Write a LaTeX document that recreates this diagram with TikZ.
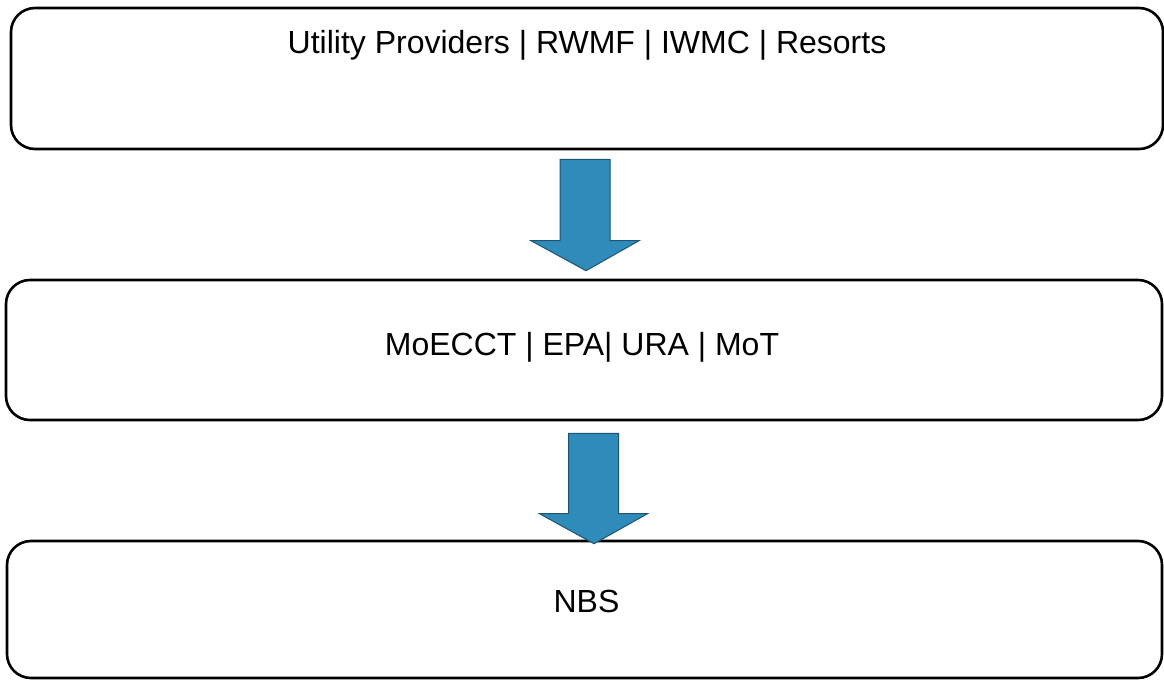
\documentclass[tikz,border=0pt]{standalone}
\usepackage{fontspec}
\setmainfont{Liberation Sans}
\usepackage{tikz}
\usetikzlibrary{calc}

\definecolor{arrowblue}{RGB}{47,140,186}
\definecolor{arrowedge}{RGB}{30,84,112}

\tikzset{
  stage/.style={draw=black, line width=2.6pt, rounded corners=24pt, fill=white},
  stagetext/.style={anchor=base, inner sep=0pt, font=\fontsize{32}{38}\selectfont},
  blockarr/.style={fill=arrowblue, draw=arrowedge, line width=1pt, line join=miter}
}

% block arrow from the top centre #1 down to the tip #2
\newcommand{\flowarrow}[2]{%
  \draw[blockarr] let \p1=(#1), \p2=(#2) in
    (\x1-25pt,\y1) -- (\x1+25pt,\y1) -- (\x1+25pt,\y2+30pt)
    -- (\x1+54pt,\y2+30pt) -- (\x2,\y2) -- (\x1-54pt,\y2+30pt)
    -- (\x1-25pt,\y2+30pt) -- cycle;}

\begin{document}
\begin{tikzpicture}[x=1pt, y=-1pt]
      \useasboundingbox (0,0) rectangle (1164,681);
      % boxes
      \node[stage, minimum width=1152pt, minimum height=141pt] (providers) at (587,78.5) {};
      \node[stage, minimum width=1156pt, minimum height=140pt] (agencies) at (584,350) {};
      \node[stage, minimum width=1155pt, minimum height=137pt] (nbs) at (584.5,609.5) {};
      % labels
      \node[stagetext] (providerstext) at ($(providers.north)+(0,47)$) {Utility Providers | RWMF | IWMC | Resorts};
      \node[stagetext] (agenciestext) at ($(agencies.center)+(-2,5)$) {MoECCT | EPA| URA | MoT};
      \node[stagetext] (nbstext) at ($(nbs.center)+(2,2.5)$) {NBS};
      % arrows
      \coordinate (arrowtopA) at ($(providers.south)+(-2,9)$);
      \coordinate (arrowtipA) at ($(agencies.north)+(2,-8)$);
      \coordinate (arrowtopB) at ($(agencies.south)+(9.5,12)$);
      \coordinate (arrowtipB) at ($(nbs.north)+(9.5,4)$);
      \flowarrow{arrowtopA}{arrowtipA}
      \flowarrow{arrowtopB}{arrowtipB}
\end{tikzpicture}
\end{document}
